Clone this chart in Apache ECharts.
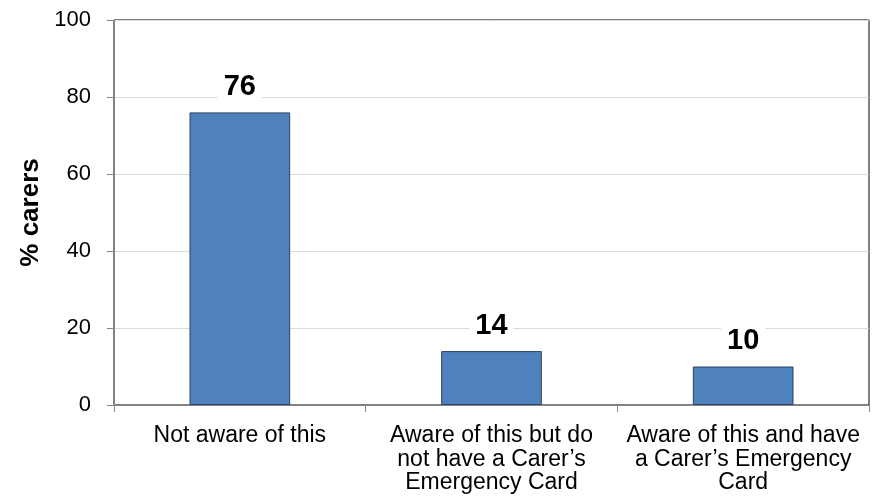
<!DOCTYPE html>
<html>
<head>
<meta charset="utf-8">
<script src="https://cdn.jsdelivr.net/npm/echarts@6/dist/echarts.min.js"></script>
<style>html,body{margin:0;padding:0;background:#fff;}#c{width:881px;height:503px;}</style>
</head>
<body>
<div id="c"></div>
<script>
const categories = [
  "Not aware of this",
  "Aware of this but do\nnot have a Carer\u2019s\nEmergency Card",
  "Aware of this and have\na Carer\u2019s Emergency\nCard"
];
const values = [76, 14, 10];
const yTicks = [0, 20, 40, 60, 80, 100];
const yAxisTitle = "% carers";

const chart = echarts.init(document.getElementById('c'));
chart.setOption({
  animation: false,
  backgroundColor: '#fff',
  textStyle: { fontFamily: 'Liberation Sans, Arial, sans-serif' },
  grid: { left: 114, right: 12, top: 20, bottom: 98, show: true, borderColor: '#000', borderWidth: 1 },
  xAxis: {
    type: 'category',
    data: categories,
    axisLine: { lineStyle: { color: '#868686', width: 1 } },
    axisTick: { show: true, length: 7, alignWithLabel: false, lineStyle: { color: '#868686' } },
    axisLabel: { color: '#000', fontSize: 23, lineHeight: 23.5, margin: 19, interval: 0 }
  },
  yAxis: {
    type: 'value',
    min: yTicks[0], max: yTicks[yTicks.length - 1], interval: 20,
    name: yAxisTitle,
    nameLocation: 'middle',
    nameGap: 70,
    nameRotate: 90,
    nameTextStyle: { color: '#000', fontSize: 26, fontWeight: 'bold' },
    axisLine: { show: true, lineStyle: { color: '#868686', width: 1 } },
    axisTick: { show: true, length: 7, lineStyle: { color: '#868686' } },
    axisLabel: { color: '#000', fontSize: 22, margin: 23 },
    splitLine: { lineStyle: { color: '#d9d9d9', width: 1 } }
  },
  series: [{
    type: 'bar',
    data: values,
    barWidth: '40%',
    itemStyle: { color: '#4F81BD', borderColor: '#2d4260', borderWidth: 1 },
    label: {
      show: true, position: 'top', distance: 11,
      color: '#000', fontSize: 29, fontWeight: 'bold',
      backgroundColor: '#fff', padding: [0, 6]
    }
  }]
});
</script>
</body>
</html>
